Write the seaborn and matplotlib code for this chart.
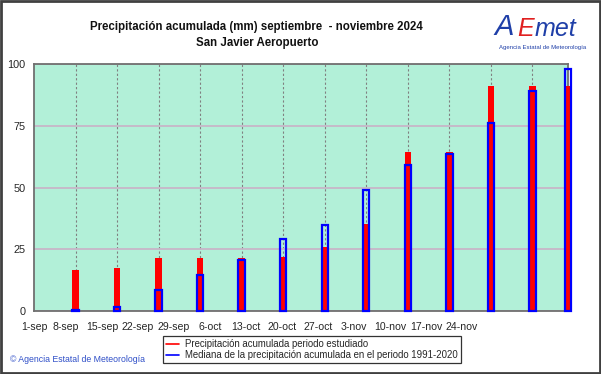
import matplotlib
matplotlib.use("Agg")
import matplotlib.pyplot as plt
import seaborn as sns
import pandas as pd
from matplotlib.patches import Rectangle
from matplotlib.lines import Line2D

# ---- data ----
days = [7, 14, 21, 28, 35, 42, 49, 56, 63, 70, 77, 84, 90]   # days since 1-sep
observed = [16.6, 17.5, 21.5, 21.5, 21.3, 21.7, 26.0, 35.2, 64.4, 64.4, 91.2, 91.2, 91.2]
median = [0.6, 1.8, 8.4, 14.6, 20.8, 29.1, 34.9, 49.1, 59.2, 63.4, 76.2, 89.2, 98.1]
tick_labels = ["1-sep", "8-sep", "15-sep", "22-sep", "29-sep", "6-oct", "13-oct",
               "20-oct", "27-oct", "3-nov", "10-nov", "17-nov", "24-nov"]
y_ticks = [0, 25, 50, 75, 100]

df = pd.DataFrame({"day": days, "observed": observed, "median": median})

sns.set_theme(style="white")
plt.rcParams["font.family"] = ["Liberation Sans", "DejaVu Sans"]

fig = plt.figure(figsize=(6.01, 3.74), dpi=100)
fig.patch.set_facecolor("white")
ax = fig.add_axes([34 / 601, 1 - 311 / 374, (568 - 34) / 601, (311 - 64) / 374])
ax.set_facecolor("#b2f0d8")

sns.barplot(data=df, x="day", y="observed", native_scale=True, width=0.18,
            color="#ff0000", saturation=1, errorbar=None, ax=ax, zorder=3,
            linewidth=0)
sns.barplot(data=df, x="day", y="median", native_scale=True, width=0.18,
            color="#0000ff", saturation=1, errorbar=None, ax=ax, fill=False,
            linewidth=1.6, zorder=4)
for p in ax.patches:
    p.set_clip_on(False)

ax.set_xlim(0, 90)
ax.set_ylim(0, 100)

# tick label positions as in the reference (evenly spaced, 36 px apart)
px_per_day = (568 - 34) / 90
label_pos = [max(0.0, (30 + 36 * i - 34) / px_per_day) for i in range(len(tick_labels))]
ax.set_xticks(label_pos)
ax.set_xticklabels(tick_labels, fontsize=7.6)
ax.set_xticks(days, minor=True)
ax.set_yticks(y_ticks)
ax.set_yticklabels([str(v) for v in y_ticks], fontsize=7.8)
ax.tick_params(axis="both", which="both", length=0)
ax.tick_params(axis="x", pad=8)
ax.tick_params(axis="y", pad=6)

ax.grid(False)
ax.xaxis.grid(True, which="minor", linestyle=(0, (2, 2)), color="#808080", linewidth=0.8, zorder=1)
ax.yaxis.grid(True, which="major", color="#c8b6c8", linewidth=1.3, zorder=1)
ax.set_axisbelow(True)
for s in ax.spines.values():
    s.set_color("#707070")
    s.set_linewidth(1.3)
ax.set_xlabel("")
ax.set_ylabel("")

# titles
fig.text(256 / 601, 1 - 27 / 374, "Precipitación acumulada (mm) septiembre  - noviembre 2024",
         ha="center", va="center", fontsize=8.3, fontweight="bold", color="#111111")
fig.text(257 / 601, 1 - 43 / 374, "San Javier Aeropuerto",
         ha="center", va="center", fontsize=8.3, fontweight="bold", color="#111111")

# logo approximation
fig.text(494 / 601, 1 - 27 / 374, "A", ha="left", va="center", fontsize=21,
         style="italic", color="#1f3fa8")
fig.text(517 / 601, 1 - 29 / 374, "E", ha="left", va="center", fontsize=18,
         style="italic", color="#e02020")
fig.text(535 / 601, 1 - 29 / 374, "met", ha="left", va="center", fontsize=18,
         style="italic", color="#1f3fa8")
fig.text(543 / 601, 1 - 48 / 374, "Agencia Estatal de Meteorología", ha="center",
         va="center", fontsize=4.3, color="#1f3fa8")

# copyright
fig.text(10 / 601, 1 - 359 / 374, "© Agencia Estatal de Meteorología", ha="left",
         va="center", fontsize=6.3, color="#3050c8")

# legend
handles = [Line2D([], [], color="#ff0000", lw=1.2),
           Line2D([], [], color="#0000ff", lw=1.2)]
leg = fig.legend(handles, ["Precipitación acumulada periodo estudiado",
                           "Mediana de la precipitación acumulada en el periodo 1991-2020"],
                 loc="upper left", bbox_to_anchor=(163 / 601, 1 - 336 / 374),
                 fontsize=6.9, frameon=True, fancybox=False, handlelength=1.4,
                 handletextpad=0.6, labelspacing=0.15, borderpad=0.3,
                 borderaxespad=0)
leg.get_frame().set_edgecolor("#000000")
leg.get_frame().set_linewidth(0.9)

# figure border
fig.patches.append(Rectangle((0.002, 0.003), 0.996, 0.994, transform=fig.transFigure,
                             fill=False, edgecolor="#404040", linewidth=2))

fig.savefig("out.png", dpi=100)
